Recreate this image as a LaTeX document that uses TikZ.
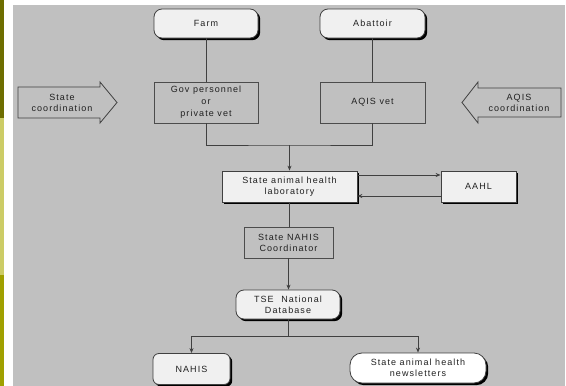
\documentclass[tikz,border=0pt]{standalone}
\usepackage{fontspec}
\setmainfont{Liberation Sans}[LetterSpace=12]
\usetikzlibrary{arrows.meta,shadows}
\definecolor{bgray}{HTML}{C0C0C0}
\definecolor{oliveA}{HTML}{6E6E00}
\definecolor{oliveB}{HTML}{CCCC66}
\definecolor{oliveC}{HTML}{A0A000}
\definecolor{boxfill}{HTML}{F0F0F0}
\definecolor{ink}{HTML}{202020}
\tikzset{
  lbl/.style={font=\fontsize{9}{11}\selectfont, text=ink, align=center, inner sep=0pt},
  plainbox/.style={lbl, draw=black!70, line width=0.8pt},
  shadowbox/.style={lbl, draw=black!75, line width=0.8pt, fill=boxfill,
     drop shadow={shadow xshift=2.2pt, shadow yshift=-2.2pt, fill=black, opacity=1}},
  roundbox/.style={shadowbox, rounded corners=8pt},
  conn/.style={draw=black!75, line width=0.8pt},
  arr/.style={conn, -{Stealth[length=5pt,width=4pt]}},
  blockarrow/.style={draw=black!75, line width=0.8pt},
}
\begin{document}
\begin{tikzpicture}[x=1pt,y=-1pt]
\useasboundingbox (0,0) rectangle (566,386);
% page background
\fill[white] (0,0) rectangle (566,386);
\fill[bgray] (13,5) rectangle (565,386);
\fill[oliveA] (0,0) rectangle (4,118);
\fill[oliveB] (0,118) rectangle (4,275);
\fill[oliveC] (0,275) rectangle (4,386);

% nodes
\node[roundbox, minimum width=104pt, minimum height=29pt] (farm) at (206,23.5) {Farm};
\node[roundbox, minimum width=105pt, minimum height=29pt] (abattoir) at (372.5,23.5) {Abattoir};
\node[plainbox, minimum width=104pt, minimum height=41pt] (gov) at (206,102.5) {Gov personnel\\[1pt] or\\[1pt] private vet};
\node[plainbox, minimum width=105pt, minimum height=41pt] (aqis) at (372.5,102.5) {AQIS vet};
\node[shadowbox, minimum width=135pt, minimum height=31pt] (lab) at (289.5,186.5) {State animal health\\ laboratory};
\node[shadowbox, minimum width=75pt, minimum height=31pt] (aahl) at (478.5,186.5) {AAHL};
\node[plainbox, minimum width=89pt, minimum height=31pt] (coord) at (288.5,242.5) {State NAHIS\\ Coordinator};
\node[roundbox, minimum width=104pt, minimum height=29pt] (tse) at (288,304.5) {TSE\hspace{4pt} National\\ Database};
\node[roundbox, rounded corners=6pt, minimum width=77pt, minimum height=31pt] (nahis) at (191.5,369) {NAHIS};
\node[roundbox, rounded corners=12pt, fill=white, minimum width=136pt, minimum height=30pt] (news) at (418,368) {State animal health\\ newsletters};

% block arrows
\draw[blockarrow] (18,87) -- (100,87) -- (100,82) -- (117,102.5) -- (100,123) -- (100,118) -- (18,118) -- cycle;
\node[lbl] (stc) at (62,102.5) {State\\ coordination};
\draw[blockarrow] (561,88) -- (478,88) -- (478,82) -- (462,102.5) -- (478,123) -- (478,117) -- (561,117) -- cycle;
\node[lbl] (aqc) at (519,102.5) {AQIS\\ coordination};

% connectors
\draw[conn] (farm) -- (gov);
\draw[conn] (abattoir) -- (aqis);
\coordinate (j) at (289.5,145);
\draw[conn] (gov.south) |- (j) -| (aqis.south);
\draw[arr] (j) -- (lab.north);
\draw[arr] (lab.east |- 0,175) -- (aahl.west |- 0,175);
\draw[arr] (aahl.west |- 0,196) -- (lab.east |- 0,196);
\draw[conn] (lab.south) -- (lab.south |- coord.north);
\draw[arr] (coord.south) -- (coord.south |- tse.north);
\coordinate (k) at (288,336);
\draw[conn] (tse.south) -- (k);
\draw[arr] (k) -| (nahis.north);
\draw[arr] (k) -| (news.north);
\end{tikzpicture}
\end{document}
